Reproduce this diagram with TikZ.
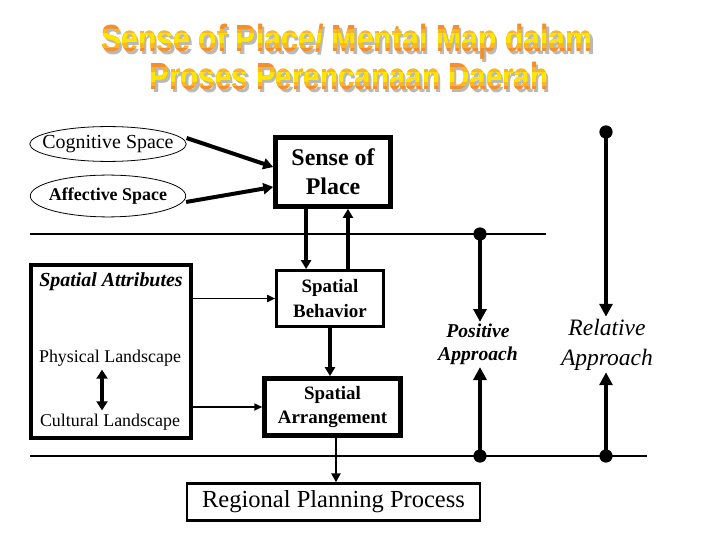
\documentclass[tikz,border=0pt]{standalone}
\usepackage{fontspec}
\setmainfont{Liberation Serif}
\newfontfamily\titlefont{Liberation Sans}
\usetikzlibrary{positioning,arrows.meta,shapes.geometric}
\definecolor{ttlorange}{HTML}{F4902C}
\definecolor{ttlamber}{HTML}{FBB81C}
\definecolor{ttlyellow}{HTML}{FFE600}
\definecolor{ttlshadow}{HTML}{B9B9B9}
\newcommand{\fsz}[2]{\fontsize{#1}{#2}\selectfont}
\newcommand{\ttlone}{\scalebox{0.8}[1]{Sense of Place/ Mental Map dalam}}
\newcommand{\ttltwo}{\scalebox{0.78}[1]{Proses Perencanaan Daerah}}

\begin{document}
\begin{tikzpicture}[x=1bp, y=-1bp,
  box/.style={draw, rectangle, inner sep=0pt, align=center, font=\bfseries\fsz{19}{25}},
  oval/.style={draw, ellipse, line width=0.8pt, inner sep=-15pt},
  dot/.style={circle, fill, inner sep=0pt, minimum size=13pt},
  sepline/.style={line width=1.5pt},
  flowthin/.style={line width=1.7pt, -{Triangle[length=8pt,width=7pt]}},
  flowmed/.style={line width=3.3pt, -{Triangle[length=9pt,width=10pt]}},
  flowbig/.style={line width=5pt, -{Triangle[length=13pt,width=13pt]}},
  ttl/.style={font=\titlefont\bfseries\fsz{38}{38}, anchor=base, inner sep=0pt}]
\path[use as bounding box, fill=white] (0,0) rectangle (720,540);
% ---------------- title (orange, yellow band in the middle)
\node[ttl, text=ttlshadow] (t1s) at (349.5,54.5) {\ttlone};
\node[ttl, text=ttlorange] (t1) at (347,52) {\ttlone};
\node[ttl, text=ttlshadow] (t2s) at (351.5,92.5) {\ttltwo};
\node[ttl, text=ttlorange] (t2) at (349,90) {\ttltwo};
\foreach \h/\c in {9/ttlamber, 4.5/ttlyellow} {
  \begin{scope}
    \clip (80,{38.5-\h}) rectangle (640,{38.5+\h});
    \node[ttl, text=\c] at (t1.base) {\ttlone};
  \end{scope}
  \begin{scope}
    \clip (80,{77-\h}) rectangle (640,{77+\h});
    \node[ttl, text=\c] at (t2.base) {\ttltwo};
  \end{scope}
}
% ---------------- left column
\node[oval, font=\fsz{20}{24}, minimum width=157, minimum height=35] (cog) at (108,144) {Cognitive Space};
\node[oval, font=\bfseries\fsz{18}{22}, minimum width=156, minimum height=42] (aff) at (108,196) {Affective Space};
\node[box, line width=4pt, minimum width=160, minimum height=173] (attr) at (111,351.5) {};
\node[font=\bfseries\itshape\fsz{20}{24}] (attrt) at (111,282) {Spatial Attributes};
\node[font=\fsz{18}{22}] (phys) at (110,358) {Physical Landscape};
\node[font=\fsz{18}{22}] (cult) at (110,422) {Cultural Landscape};
\draw[line width=4pt, {Triangle[length=9pt,width=11pt]}-{Triangle[length=9pt,width=11pt]}] ([xshift=-8pt]phys.south) -- ([xshift=-8pt]cult.north);
% ---------------- middle column
\node[box, line width=5pt, minimum width=115, minimum height=69, font=\bfseries\fsz{24}{29}] (sense) at (333,172) {Sense of\\Place};
\node[box, line width=3pt, minimum width=107, minimum height=56] (behav) at (330,298.5) {Spatial\\Behavior};
\node[box, line width=5pt, minimum width=136, minimum height=57] (arr) at (332.5,407) {Spatial\\Arrangement};
\node[box, line width=2.5pt, minimum width=294, minimum height=37, font=\fsz{24.6}{29}] (rpp) at (333.5,502) {Regional Planning Process};
\draw[line width=4pt, -{Triangle[length=10pt,width=11pt]}] ([yshift=6pt]cog.east) -- ([yshift=5pt]sense.west);
\draw[line width=4pt, -{Triangle[length=10pt,width=11pt]}] ([yshift=-6pt]aff.east) -- ([yshift=-15pt]sense.west);
\draw[flowmed] ([xshift=-27pt]sense.south) -- ([xshift=-27pt]sense.south |- behav.north);
\draw[flowmed] ([xshift=15pt]sense.south |- behav.north) -- ([xshift=15pt]sense.south);
\draw[flowthin] (attr.east |- behav.west) -- (behav.west);
\draw[flowthin] (attr.east |- arr.west) -- (arr.west);
\draw[flowmed] (behav.south) -- (behav.south |- arr.north);
\draw[line width=2.5pt, -{Triangle[length=9pt,width=9pt]}] ([xshift=3.5pt]arr.south) -- ([xshift=3.5pt]arr.south |- rpp.north);
% ---------------- approaches
\coordinate (s1l) at (30,234); \coordinate (s1r) at (546,234);
\coordinate (s2l) at (30,456); \coordinate (s2r) at (647,456);
\draw[sepline] (s1l) -- (s1r);
\draw[sepline] (s2l) -- (s2r);
\node[font=\bfseries\itshape\fsz{19.7}{23}, align=center, inner sep=2pt] (pos) at (478,344.5) {Positive\\Approach};
\node[font=\itshape\fsz{23.6}{30}, align=center, inner sep=2pt] (rel) at (607,344.5) {Relative\\Approach};
\node[dot] (pa1) at (480,234) {};
\node[dot] (pa2) at (480,456) {};
\node[dot] (ra1) at (606,132) {};
\node[dot] (ra2) at (606,456) {};
\draw[flowbig] (pa1.center) -- (pa1.center |- pos.north);
\draw[flowbig] (pa2.center) -- (pa2.center |- pos.south);
\draw[flowbig] (ra1.center) -- (ra1.center |- rel.north);
\draw[flowbig] (ra2.center) -- (ra2.center |- rel.south);
\foreach \d in {pa1,pa2,ra1,ra2} \node[dot] at (\d) {};
\end{tikzpicture}
\end{document}
